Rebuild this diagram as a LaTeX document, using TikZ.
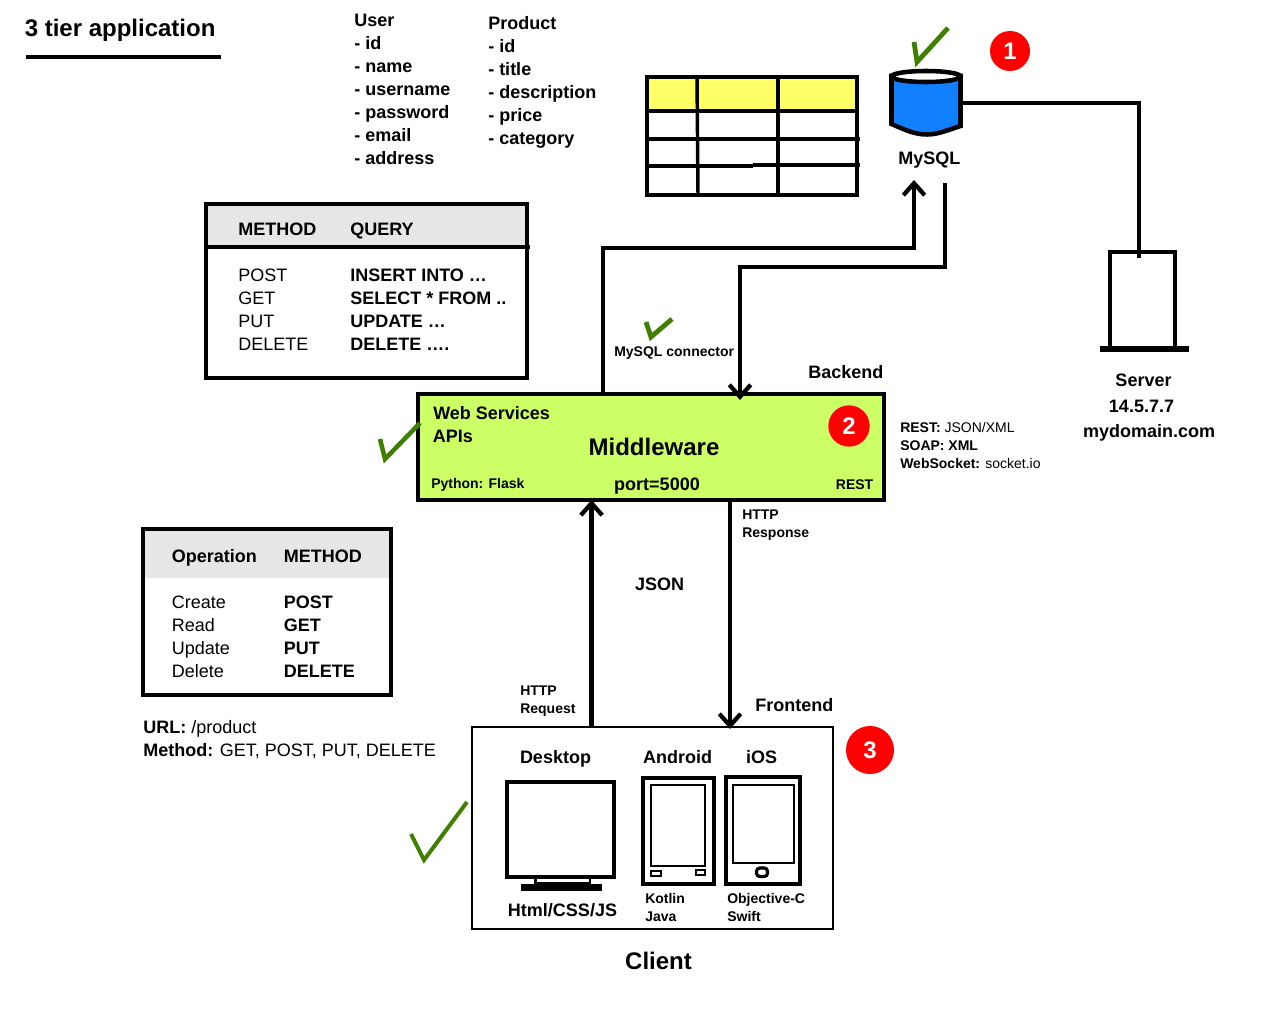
\documentclass[tikz,border=0pt]{standalone}
\usepackage{fontspec}
\setmainfont{Liberation Sans}
\usetikzlibrary{arrows.meta}
\definecolor{headgrey}{HTML}{E6E6E6}
\definecolor{rowyellow}{HTML}{FFFF66}
\definecolor{dbblue}{HTML}{1080FF}
\definecolor{mwgreen}{HTML}{CCFF66}
\definecolor{tickgreen}{HTML}{3F8000}
\tikzset{
  txt/.style={inner sep=0pt,font=\fontsize{13.5}{17.25}\selectfont\bfseries,anchor=base west,align=left},
  txtplain/.style={inner sep=0pt,font=\fontsize{13.5}{17.25}\selectfont,anchor=base west,align=left},
  txtsmall/.style={inner sep=0pt,font=\fontsize{10.5}{13.5}\selectfont\bfseries,anchor=base west,align=left},
  txtbig/.style={inner sep=0pt,font=\fontsize{18}{22}\selectfont\bfseries,anchor=base},
  block/.style={inner sep=0pt,anchor=north west,align=left},
  heavy/.style={line width=3pt},
  conn/.style={line width=3pt,-{Straight Barb[length=9pt,width=16pt,line width=3.2pt]}},
  line/.style={line width=3pt},
  tick/.style={draw=tickgreen,line width=3.4pt},
  badge/.style={circle,fill=red,text=white,inner sep=0pt,font=\fontsize{18}{22}\selectfont\bfseries},
}
\begin{document}
\begin{tikzpicture}[x=0.75pt,y=0.75pt,yscale=-1,xscale=1]
\useasboundingbox (0,0) rectangle (1280,1024);

%title
\node [txtbig,anchor=base west] (title) at (24.5,37) {3 tier application};
\draw [line] (26,57) -- (221,57);

%field lists
\node [block,font=\fontsize{13.5}{17.25}\selectfont\bfseries] (userFields) at (354,14) {User\\- id\\- name\\- username\\- password\\- email\\- address};
\node [block,font=\fontsize{13.5}{17.25}\selectfont\bfseries] (productFields) at (488,16) {Product\\- id\\- title\\- description\\- price\\- category};

%yellow table
\fill [rowyellow] (647,77) rectangle (857,111);
\draw [line width=2.6pt] (647,77) rectangle (857,195);
\draw [line width=2.6pt] (697,77) -- (698,195);
\draw [line width=2.6pt] (778,77) -- (778,195);
\draw [line width=2.6pt] (647,111) -- (857,111);
\draw [line width=2.6pt] (645,139) -- (860,139);
\draw [line width=2.6pt] (647,166) -- (753,166);
\draw [line width=2.6pt] (753,165) -- (860,165);

%database
\filldraw [fill=dbblue,line width=3.4pt] (891.5,76) -- (891.5,124) .. controls (905,130) and (915,134.5) .. (927,134.5) .. controls (938,134.5) and (948,130) .. (960.5,126) -- (960.5,76) -- cycle;
\filldraw [fill=white,line width=3.4pt] (926,76.5) ellipse (34.5 and 5.5);
\node [txt] (mysql) at (898,164) {MySQL};
\node [badge,minimum size=30pt] (badgeOne) at (1010,51) {1};
\draw [tick,line width=3.6pt] (914,42) -- (917,62) -- (948,28);

%query table
\fill [headgrey] (206,204) rectangle (527,247);
\draw [heavy] (206,204) rectangle (527,378);
\draw [line width=2.4pt] (206,247) -- (530,247);
\node [txt] (methodHead) at (238,235) {METHOD};
\node [txt] (queryHead) at (350,235) {QUERY};
\node [block,font=\fontsize{13.5}{17.25}\selectfont] (methodCol) at (238,269) {POST\\GET\\PUT\\DELETE};
\node [block,font=\fontsize{13.5}{17.25}\selectfont\bfseries] (queryCol) at (350,269) {INSERT INTO …\\SELECT * FROM ..\\UPDATE …\\DELETE ….};

%server
\draw [heavy] (1110,252) rectangle (1175,349);
\draw [line width=3.8pt] (1100,349) -- (1189,349);
\node [txt,anchor=base] (serverName) at (1143.5,386) {Server};
\node [txt,anchor=base] (serverIp) at (1141.5,412) {14.5.7.7};
\node [txt,anchor=base] (serverHost) at (1149,437) {mydomain.com};

%middleware
\node [draw,fill=mwgreen,heavy,minimum width=349.5pt,minimum height=79.5pt,inner sep=0pt] (middleware) at (651,447) {};
\node [txt] (webServices) at (433,419) {Web Services};
\node [txt] (apis) at (432.5,442) {APIs};
\node [txtbig] (mwTitle) at (654,455) {Middleware};
\node [txtsmall] (flask) at (431,488) {Python: Flask};
\node [txt,anchor=base] (port) at (657,490) {port=5000};
\node [txtsmall,anchor=base east] (rest) at (873.5,489) {REST};
\node [badge,minimum size=31pt] (badgeTwo) at (849,426) {2};
\node [txt] (backend) at (808,378) {Backend};
\node [txtsmall] (protoRest) at (900,432) {REST: \mdseries JSON/XML};
\node [txtsmall] (protoSoap) at (900,450) {SOAP: XML};
\node [txtsmall] (protoSock) at (900,468) {WebSocket: \mdseries socket.io};
\draw [tick] (380,439) -- (385,459) -- (420,423);

%connector label
\node [txtsmall] (connector) at (614,356) {MySQL connector};
\draw [tick,line width=3.6pt] (646,322) -- (651,337) -- (672,319);

%method table
\fill [headgrey] (143,529) rectangle (391,578);
\draw [heavy] (143,529) rectangle (391,695);
\node [txt] (opHead) at (171.5,562) {Operation};
\node [txt] (opMethod) at (283.5,562) {METHOD};
\node [block,font=\fontsize{13.5}{17.25}\selectfont] (opCol) at (171.5,596) {Create\\Read\\Update\\Delete};
\node [block,font=\fontsize{13.5}{17.25}\selectfont\bfseries] (opMethodCol) at (283.5,596) {POST\\GET\\PUT\\DELETE};
\node [txtplain] (urlLine) at (143,733) {\bfseries URL: \mdseries /product};
\node [txtplain] (methodLine) at (143,756) {\bfseries Method: \mdseries GET, POST, PUT, DELETE};

%client
\node [draw,line width=1.5pt,minimum width=270.75pt,minimum height=151.5pt,inner sep=0pt] (client) at (652.5,828) {};
\node [txt,anchor=base] (desktop) at (555.5,763) {Desktop};
\node [txt,anchor=base] (android) at (677.5,763) {Android};
\node [txt,anchor=base] (ios) at (761.5,763) {iOS};
\node [txt,anchor=base] (web) at (562.5,916) {Html/CSS/JS};
\node [txtsmall,anchor=north west] (androidLangs) at (645,893) {Kotlin\\Java};
\node [txtsmall,anchor=north west] (iosLangs) at (727,893) {Objective-C\\Swift};
\node [txtbig] (clientName) at (658.5,969) {Client};
\node [txt] (frontend) at (755,711) {Frontend};
\node [badge,minimum size=36pt] (badgeThree) at (870,750) {3};
\draw [tick,line width=3pt] (411,834) -- (424,860) -- (467,802);

%desktop
\draw [heavy] (507,782) rectangle (614,877);
\draw [line width=2.2pt] (535.5,877) rectangle (590,883.5);
\fill (521,884) rectangle (602,891);
%android
\draw [heavy] (643,778) rectangle (714,884);
\draw [line width=1.5pt] (651,785) rectangle (705,866);
\draw [line width=1.2pt] (651,871) rectangle (661,876);
\draw [line width=1.2pt] (696,870) rectangle (705,875);
%ios
\draw [line width=3.4pt] (726,777) rectangle (800,884);
\draw [line width=1.5pt] (733,785) rectangle (794,863);
\draw [line width=2.4pt,rounded corners=2.5pt] (756.5,868) rectangle (767.5,876.5);

%connectors
\coordinate (dbOut) at (962,103);
\coordinate (serverIn) at (1139,258);
\coordinate (mwUp) at (603,394);
\coordinate (dbIn) at (914,180);
\coordinate (dbDown) at (945,183);
\coordinate (mwIn) at (740,400);
\coordinate (clientUp) at (591.5,727);
\coordinate (mwBottomIn) at (591.5,500);
\coordinate (mwDown) at (730,500);
\coordinate (clientIn) at (730,729);
\node [txtsmall,anchor=north west] (httpReq) at (520,685.5) {HTTP\\Request};
\node [txtsmall,anchor=north west] (httpResp) at (742,509.5) {HTTP\\Response};
\node [txt,anchor=base] (json) at (659.5,590) {JSON};
\draw [line] (dbOut) -- (1139,103) -- (serverIn);
\draw [conn] (mwUp) -- (603,248) -- (914,248) -- (dbIn);
\draw [conn] (dbDown) -- (945,267) -- (740,267) -- (mwIn);
\draw [conn,line width=3.2pt] (clientUp) -- (mwBottomIn);
\draw [conn,line width=2.4pt] (mwDown) -- (clientIn);

\end{tikzpicture}
\end{document}
